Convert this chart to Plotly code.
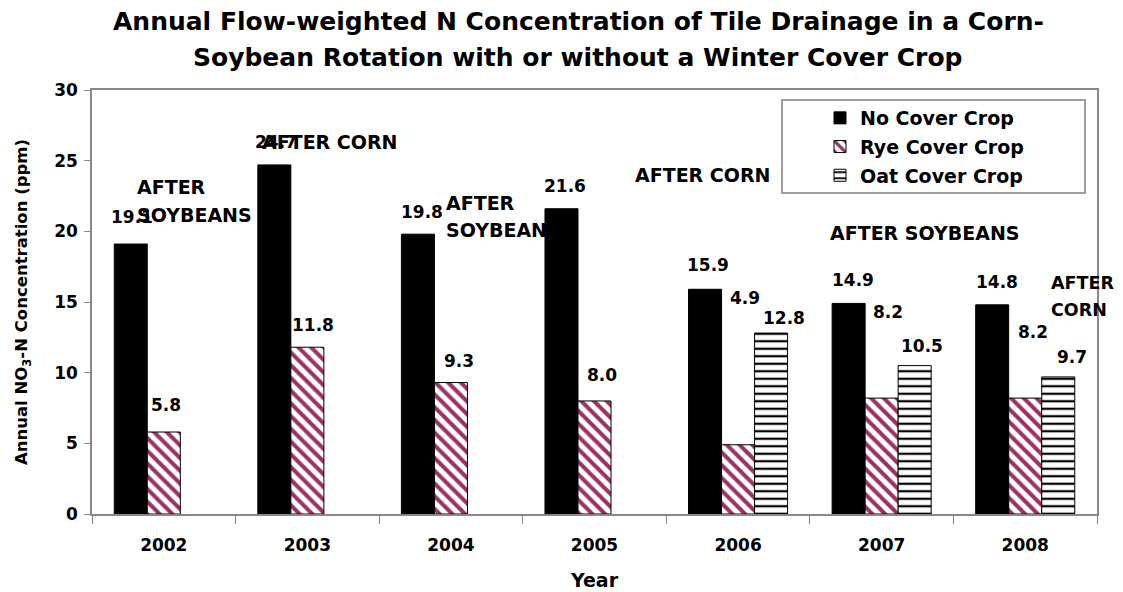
import plotly.graph_objects as go

years = ["2002", "2003", "2004", "2005", "2006", "2007", "2008"]
no_cover = [19.1, 24.7, 19.8, 21.6, 15.9, 14.9, 14.8]
rye_cover = [5.8, 11.8, 9.3, 8.0, 4.9, 8.2, 8.2]
oat_cover = [None, None, None, None, 12.8, 10.5, 9.7]

title_lines = ["Annual Flow-weighted N Concentration of Tile Drainage in a Corn-",
               "Soybean Rotation with or without a Winter Cover Crop"]

# hand-placed offsets of the value labels (pixels), as in the source chart
no_dx = [1, 2, 4, 3, 3, 4, 5]
no_dy = [27, 23, 22, 23, 24, 23, 23]
rye_dx = [2, 6, 8, 7, 7, 6, 8]
rye_dy = [27, 22, 22, 26, 147, 86, 66]
oat_dx = [0, 0, 0, 0, 13, 7, 14]
oat_dy = [0, 0, 0, 0, 15, 20, 20]

notes = ["AFTER", "SOYBEANS", "AFTER CORN", "AFTER", "SOYBEANS",
         "AFTER CORN", "AFTER SOYBEANS", "AFTER", "CORN"]
note_px = [(135, 187), (135, 215), (260, 142), (444, 203), (444, 230),
           (633, 175), (828, 233), (1049, 283), (1049, 310)]
note_size = [19, 19, 19, 19, 19, 19, 19, 17.5, 17.5]

FONT = "DejaVu Sans"
L, R, T, B = 92, 1097, 90, 514
PAGE = 8  # body margin of the page that holds the figure

def px_x(px):
    return (px - L) / (R - L)

def px_y(py):
    return (B - py) / (B - T)

fig = go.Figure()
fig.add_trace(go.Bar(x=years, y=no_cover, name="No Cover Crop",
                     marker=dict(color="black", line=dict(color="black", width=1)),
                     legendgroup="a"))
fig.add_trace(go.Bar(x=years, y=rye_cover, name="Rye Cover Crop",
                     marker=dict(color="white", line=dict(color="black", width=1),
                                 pattern=dict(shape="\\", fgcolor="#993366", bgcolor="white",
                                              size=9, solidity=0.45, fillmode="replace")),
                     legendgroup="b"))
fig.add_trace(go.Bar(x=years, y=oat_cover, name="Oat Cover Crop",
                     marker=dict(color="white", line=dict(color="black", width=1),
                                 pattern=dict(shape="-", fgcolor="black", bgcolor="white",
                                              size=7.5, solidity=0.3, fillmode="replace")),
                     legendgroup="c"))

ann = []
lab_font = dict(family=FONT, size=17, color="black", weight="bold")
for i, yr in enumerate(years):
    ann.append(dict(x=i, y=no_cover[i], text=f"{no_cover[i]:.1f}", showarrow=False,
                    xshift=-33 + no_dx[i], yshift=no_dy[i], yanchor="middle", font=lab_font))
    ann.append(dict(x=i, y=rye_cover[i], text=f"{rye_cover[i]:.1f}", showarrow=False,
                    xshift=rye_dx[i], yshift=rye_dy[i], yanchor="middle", font=lab_font))
    if oat_cover[i] is not None:
        ann.append(dict(x=i, y=oat_cover[i], text=f"{oat_cover[i]:.1f}", showarrow=False,
                        xshift=33 + oat_dx[i], yshift=oat_dy[i], yanchor="middle", font=lab_font))

for txt, (px, py), sz in zip(notes, note_px, note_size):
    ann.append(dict(xref="paper", yref="paper", x=px_x(px), y=px_y(py),
                    text=txt, showarrow=False, xanchor="left", yanchor="middle",
                    font=dict(family=FONT, size=sz, color="black", weight="bold")))

for txt, py in zip(title_lines, [22, 57]):
    ann.append(dict(xref="paper", yref="paper", x=px_x(578), y=px_y(py),
                    text=txt, showarrow=False, xanchor="center", yanchor="middle",
                    font=dict(family=FONT, size=25, color="black", weight="bold")))

fig.update_layout(
    width=1123, height=592,
    margin=dict(l=L - PAGE, r=1123 - R + PAGE, t=T - PAGE, b=592 - B + PAGE, autoexpand=False),
    paper_bgcolor="white", plot_bgcolor="white",
    font=dict(family=FONT, color="black", weight="bold"),
    barmode="group", bargap=0.31, bargroupgap=0,
    xaxis=dict(type="category", range=[-0.5, 6.5], tickson="boundaries", ticks="outside",
               ticklen=8, tickcolor="#888888", showline=True, linecolor="#888888",
               linewidth=1.5, mirror=True, showgrid=False, ticklabelstandoff=15,
               tickfont=dict(family=FONT, size=17, weight="bold"),
               title=dict(text="Year", font=dict(family=FONT, size=19, weight="bold"),
                          standoff=20)),
    yaxis=dict(range=[0, 30], dtick=5, ticks="outside", ticklen=6, tickcolor="#888888",
               showline=True, linecolor="#888888", linewidth=1.5, mirror=True,
               showgrid=False, zeroline=False, ticklabelstandoff=3,
               tickfont=dict(family=FONT, size=17, weight="bold"),
               title=dict(text="Annual NO<sub>3</sub>-N Concentration (ppm)",
                          font=dict(family=FONT, size=16.5, weight="bold"), standoff=22)),
    legend=dict(x=px_x(820), y=px_y(99), xanchor="left", yanchor="top",
                bgcolor="rgba(0,0,0,0)", borderwidth=0, tracegroupgap=1,
                font=dict(family=FONT, size=19, color="black", weight="bold")),
    shapes=[dict(type="rect", xref="paper", yref="paper",
                 x0=px_x(782), x1=px_x(1085), y0=px_y(100), y1=px_y(193),
                 line=dict(color="#808080", width=1.5), fillcolor="rgba(0,0,0,0)")],
    annotations=ann,
)

fig.write_html("out.html")
